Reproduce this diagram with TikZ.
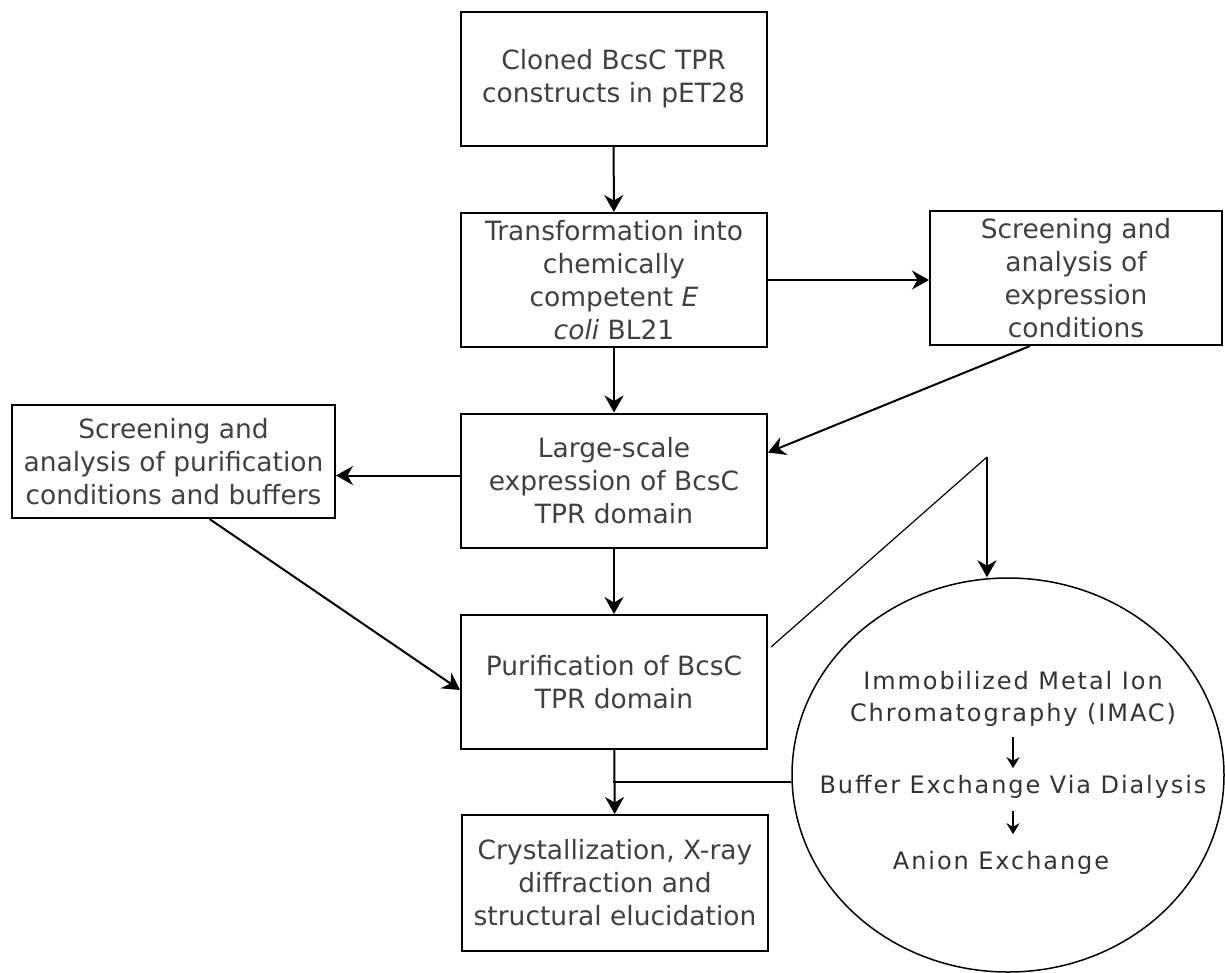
\documentclass[tikz,border=0pt]{standalone}
\usepackage{fontspec}
\setmainfont{DejaVu Sans}
\newfontfamily\circfont[LetterSpace=8]{DejaVu Sans}
\usetikzlibrary{arrows.meta,shapes.geometric}
\newcommand{\boxfont}{\fontsize{26.5}{33}\selectfont}
\newcommand{\circsize}{\fontsize{24}{32}\selectfont}

\begin{document}
\begin{tikzpicture}[x=1pt, y=-1pt,
    stagebox/.style={draw, line width=2pt, minimum width=306pt, minimum height=134pt,
        inner sep=4pt, align=center, text=black!75, font=\boxfont},
    flow/.style={-{Stealth[length=17pt,width=19pt]}, line width=2pt},
    substep/.style={align=center, inner sep=0pt, text=black!80, font=\circfont\circsize},
    subflow/.style={-{Stealth[length=11pt,width=13pt]}, line width=2pt}]
    \useasboundingbox (0,0) rectangle (1225,972);

    % Main pipeline
    \node[stagebox] (clone) at (613.5, 79) {Cloned BcsC TPR\\constructs in pET28};
    \node[stagebox] (transf) at (614, 280) {Transformation into\\chemically\\competent \textit{E}\\\textit{coli} BL21};
    \node[stagebox] (large) at (614, 480.5) {Large-scale\\expression of BcsC\\TPR domain};
    \node[stagebox] (purif) at (614, 682) {Purification of BcsC\\TPR domain};
    \node[stagebox, minimum height=136pt] (cryst) at (615, 883) {Crystallization, X-ray\\diffraction and\\structural elucidation};

    % Side screenings
    \node[stagebox, minimum width=292pt] (screxp) at (1076, 278) {Screening and\\analysis of\\expression\\conditions};
    \node[stagebox, minimum width=323pt, minimum height=113pt, inner sep=2pt] (scrpur) at (173.5, 461.5) {Screening and\\analysis of purification\\conditions and buffers};

    % Purification detail
    \node[draw, ellipse, line width=1.5pt, minimum width=432pt, minimum height=394pt] (detail) at (1008, 775) {};
    \node[substep] (imac) at (1013, 699) {Immobilized Metal Ion\\Chromatography (IMAC)};
    \node[substep] (dial) at (1013, 787) {Buffer Exchange Via Dialysis};
    \node[substep] (anion) at (1001, 863) {Anion Exchange};
    \coordinate (ztop) at (987, 457);
    \coordinate (branch) at (613, 782);

    % Arrows
    \draw[flow] (clone) -- (transf);
    \draw[flow] (transf) -- (large);
    \draw[flow] (large) -- (purif);
    \draw[flow] (purif) -- (cryst);
    \draw[flow] (transf.east) -- (transf.east -| screxp.west);
    \draw[flow] ([xshift=-46pt]screxp.south) -- ([yshift=28pt]large.east);
    \draw[flow] ([yshift=5pt]large.west) -- ([yshift=5pt]large.west -| scrpur.east);
    \draw[flow] ([xshift=36pt]scrpur.south) -- ([yshift=-8pt]purif.west);
    \draw[line width=2pt] (branch) -- (branch -| detail.west);
    \draw[line width=1.2pt] ([xshift=3pt, yshift=35pt]purif.east) -- (ztop);
    \draw[flow] (ztop) -- (ztop |- detail.north);
    \draw[subflow] ([yshift=-10pt]imac.south) -- ([yshift=7pt]dial.north);
    \draw[subflow] ([yshift=-12pt]dial.south) -- ([yshift=17pt]dial.south |- anion.north);

\end{tikzpicture}
\end{document}
